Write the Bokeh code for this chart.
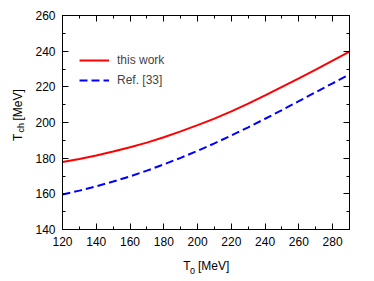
from bokeh.plotting import figure
from bokeh.layouts import column, row
from bokeh.models import (LinearAxis, FixedTicker, Range1d, Legend, LegendItem,
                          ColumnDataSource, CustomLabelingPolicy)
from bokeh.core.properties import value
from bokeh.embed import file_html
from bokeh.resources import INLINE
import math

# data
t0 = [120, 130, 140, 150, 160, 170, 180, 190, 200, 210, 220, 230, 240, 250, 260, 270, 280, 290]
t_this_work = [177.8, 179.5, 181.5, 183.7, 186.1, 188.7, 191.7, 195.0, 198.5, 202.2, 206.2,
               210.6, 215.2, 220.0, 224.8, 229.7, 234.7, 239.7]
t_ref33 = [159.6, 161.8, 164.2, 166.9, 169.8, 173.0, 176.5, 180.2, 184.1, 188.3, 192.7,
           197.3, 202.1, 207.0, 212.0, 217.0, 222.0, 226.9]
x_ticks = [120, 140, 160, 180, 200, 220, 240, 260, 280]
x_minor = [130, 150, 170, 190, 210, 230, 250, 270, 290]
y_ticks = [140, 160, 180, 200, 220, 240, 260]
y_minor = [150, 170, 190, 210, 230, 250]
labels = ["this work", "Ref. [33]"]

FONT = "Liberation Sans"
LEFT_W = 32           # width of the strip holding the y-axis title
MAIN_W, MAIN_H = 340, 253
BOTTOM_H = 26         # height of the strip holding the x-axis title
TOTAL_W = LEFT_W + MAIN_W

# ---------------- main plot ----------------
p = figure(width=MAIN_W, height=MAIN_H, output_backend="svg", toolbar_location=None,
           x_range=Range1d(120, 290), y_range=Range1d(140, 260),
           x_axis_location=None, y_axis_location=None,
           min_border_left=28, min_border_right=20, min_border_top=15, min_border_bottom=24)
p.background_fill_color = "white"
p.border_fill_color = "white"
p.outline_line_color = "black"
p.outline_line_width = 1
p.xgrid.visible = False
p.ygrid.visible = False

no_labels = CustomLabelingPolicy(code="""
const all = Array.from(indices);
for (const i of all) indices.unset(i);
return indices;
""")

def style_axis(ax, ticks, minor, show_labels):
    ax.ticker = FixedTicker(ticks=ticks, minor_ticks=minor)
    ax.axis_line_color = "black"
    ax.major_tick_line_color = "black"
    ax.minor_tick_line_color = "black"
    ax.major_tick_in = 6
    ax.major_tick_out = 0
    ax.minor_tick_in = 3
    ax.minor_tick_out = 0
    ax.major_label_text_font = FONT
    ax.major_label_text_color = "black"
    ax.major_label_text_font_size = "12px"
    if not show_labels:
        ax.major_label_policy = no_labels
        ax.major_label_standoff = 0

xb = LinearAxis(); style_axis(xb, x_ticks, x_minor, True); xb.major_label_standoff = 7
yl = LinearAxis(); style_axis(yl, y_ticks, y_minor, True); yl.major_label_standoff = 7
xt = LinearAxis(); style_axis(xt, x_ticks, x_minor, False)
yr = LinearAxis(); style_axis(yr, y_ticks, y_minor, False)
p.add_layout(xb, "below")
p.add_layout(yl, "left")
p.add_layout(xt, "above")
p.add_layout(yr, "right")

src = ColumnDataSource(dict(x=t0, a=t_this_work, b=t_ref33))
r1 = p.line("x", "a", source=src, line_color="#ff0000", line_width=2)
r2 = p.line("x", "b", source=src, line_color="#0000ff", line_width=2, line_dash="8 4")

legend = Legend(items=[LegendItem(label=labels[0], renderers=[r1]),
                       LegendItem(label=labels[1], renderers=[r2])],
                location=(17, 139), margin=0, padding=0, spacing=0,
                glyph_width=30, glyph_height=20, label_height=20, label_standoff=8,
                label_text_font=FONT, label_text_font_size="12px",
                border_line_color=None, background_fill_alpha=0)
p.add_layout(legend, "center")

# ---------------- axis-title strips (pixel coordinates) ----------------
def strip(w, h):
    f = figure(width=w, height=h, output_backend="svg", toolbar_location=None,
               x_range=Range1d(0, w), y_range=Range1d(0, h),
               x_axis_location=None, y_axis_location=None, min_border=0)
    f.outline_line_color = None
    f.background_fill_color = "white"
    f.border_fill_color = "white"
    f.xgrid.visible = False
    f.ygrid.visible = False
    return f

def txt(f, x, y, s, size, angle=0.0):
    f.text(x=[x], y=[y], text=[s], text_font=value(FONT), text_font_size=value(size),
           text_color="black", angle=angle, text_align="left", text_baseline="alphabetic")

ly = strip(LEFT_W, MAIN_H)
txt(ly, 17.5, MAIN_H - 148.5, "T", "12px", math.pi / 2)
txt(ly, 20.8, MAIN_H - 138.3, "ch", "9px", math.pi / 2)
txt(ly, 17.5, MAIN_H - 124.1, "[MeV]", "12px", math.pi / 2)

bx = strip(TOTAL_W, BOTTOM_H)
H_ALL = MAIN_H + BOTTOM_H
txt(bx, 182.7, H_ALL - 265.7, "T", "12px")
txt(bx, 189.6, H_ALL - 270.0, "0", "9px")
txt(bx, 197.5, H_ALL - 265.7, "[MeV]", "12px")

layout = column(row(ly, p, spacing=0), bx, spacing=0)

open("out.html", "w").write(file_html(layout, INLINE))
